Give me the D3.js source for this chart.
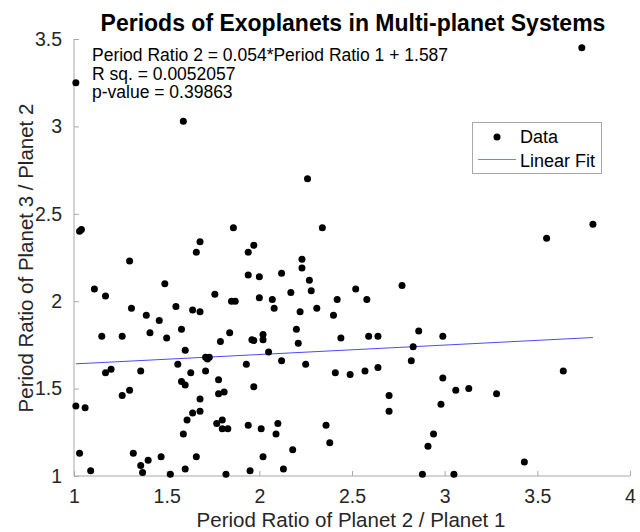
<!DOCTYPE html>
<html>
<head>
<meta charset="utf-8">
<script src="https://cdn.jsdelivr.net/npm/d3@7"></script>
<style>
  body { margin: 0; background: #fff; }
  text { font-family: "Liberation Sans", Arial, Helvetica, sans-serif; }
</style>
</head>
<body>
<svg id="chart" width="640" height="532"></svg>
<script>
// period ratio of planet 2 / planet 1 (x) and planet 3 / planet 2 (y)
const periodRatio1 = [
  1.01, 1.59, 1.03, 1.04, 1.30, 1.11, 1.17, 1.49, 1.86, 1.68, 1.66, 1.94, 1.94,
  1.31, 1.39, 1.46, 1.55, 1.64, 1.68, 1.76, 1.85, 1.87, 1.15, 1.26, 1.41, 1.50,
  1.58, 1.79, 1.84, 1.60, 1.71, 1.73, 1.72, 1.56, 1.17, 1.20, 1.36, 1.63, 1.71,
  1.93, 1.58, 1.60, 1.78, 1.26, 1.30, 1.78, 1.81, 1.68, 1.01, 1.06, 1.64, 1.68,
  1.61, 1.77, 1.80, 1.80, 1.83, 1.59, 1.03, 1.09, 1.32, 1.36, 1.37, 1.40, 1.47,
  1.52, 1.60, 1.66, 1.82, 1.95, 1.94, 1.97, 1.96, 1.97,
  2.26, 2.34, 1.97, 2.23, 2.23, 2.00, 2.12, 2.27, 2.28, 2.17, 2.00, 2.07, 2.08,
  2.22, 2.31, 2.42, 2.52, 2.58, 2.77, 2.40, 2.02, 2.02, 2.20, 2.21, 2.44, 2.59,
  2.64, 2.86, 2.05, 2.12, 2.25, 2.83, 2.82, 2.41, 2.49, 2.57, 2.64, 2.70, 2.70,
  2.01, 2.10, 2.09, 2.36, 2.38, 2.94, 2.91, 2.02, 2.18, 2.13, 2.88,
  3.74, 3.80, 3.55, 2.99, 2.99, 3.06, 3.13, 3.28, 3.64, 2.98, 3.43, 3.05
];
const periodRatio2 = [
  3.25, 3.03, 2.40, 2.41, 2.23, 2.07, 2.03, 2.10, 2.42, 2.34, 2.28, 2.28, 2.15,
  1.96, 1.92, 1.89, 1.97, 1.95, 1.94, 2.04, 2.00, 2.00, 1.80, 1.80, 1.82, 1.79,
  1.84, 1.77, 1.82, 1.72, 1.68, 1.68, 1.67, 1.64, 1.59, 1.61, 1.60, 1.59, 1.60,
  1.64, 1.54, 1.52, 1.55, 1.46, 1.49, 1.47, 1.48, 1.44, 1.40, 1.39, 1.36, 1.37,
  1.32, 1.30, 1.32, 1.27, 1.27, 1.24, 1.13, 1.03, 1.13, 1.06, 1.02, 1.09, 1.11,
  1.01, 1.04, 1.11, 1.01, 1.03, 1.29, 1.51, 1.78, 1.775,
  2.70, 2.42, 2.32, 2.24, 2.19, 2.14, 2.16, 2.12, 2.06, 2.05, 2.02, 2.01, 1.96,
  1.94, 1.96, 2.01, 2.07, 2.01, 2.09, 1.92, 1.81, 1.78, 1.84, 1.76, 1.79, 1.80,
  1.80, 1.83, 1.71, 1.66, 1.64, 1.74, 1.66, 1.59, 1.58, 1.60, 1.62, 1.46, 1.37,
  1.27, 1.30, 1.24, 1.29, 1.19, 1.24, 1.17, 1.11, 1.15, 1.04, 1.01,
  3.45, 2.44, 2.36, 1.80, 1.56, 1.49, 1.50, 1.47, 1.60, 1.41, 1.08, 1.01
];

// linear fit reported on the chart
const fitSlope = 0.054;
const fitIntercept = 1.587;
const statsLines = [
  "Period Ratio 2 = 0.054*Period Ratio 1 + 1.587",
  "R sq. = 0.0052057",
  "p-value = 0.39863"
];

const xTicks = [1, 1.5, 2, 2.5, 3, 3.5, 4];
const yTicks = [1, 1.5, 2, 2.5, 3, 3.5];
const legendLabels = ["Data", "Linear Fit"];

const svg = d3.select("#chart");

const x = d3.scaleLinear().domain([1, 4]).range([74, 630]);
const y = d3.scaleLinear().domain([1, 3.5]).range([476, 39]);

const axisColor = "#a8a8a8";
const labelColor = "#262626";

// x axis, ticks pointing inward like matlab
const xAxis = svg.append("g")
    .attr("transform", "translate(0,476)")
    .call(d3.axisTop(x).tickValues(xTicks).tickSize(5).tickPadding(-32).tickFormat(d3.format("")));
xAxis.select(".domain").attr("stroke", axisColor).attr("d", "M74,0H630");
xAxis.selectAll(".tick line").attr("stroke", axisColor);
xAxis.selectAll(".tick text")
    .attr("fill", labelColor)
    .style("font-size", "19.5px")
    .attr("font-family", null);

// y axis
const yAxis = svg.append("g")
    .attr("transform", "translate(74,0)")
    .call(d3.axisRight(y).tickValues(yTicks).tickSize(5).tickPadding(-17).tickFormat(d3.format("")));
yAxis.select(".domain").attr("stroke", axisColor).attr("d", "M0,39V476");
yAxis.selectAll(".tick line").attr("stroke", axisColor);
yAxis.selectAll(".tick text")
    .attr("fill", labelColor)
    .attr("text-anchor", "end")
    .style("font-size", "19.5px")
    .attr("font-family", null);

// fit line over the range of the data
const xExtent = d3.extent(periodRatio1);
svg.append("line")
    .attr("x1", x(xExtent[0]))
    .attr("y1", y(fitSlope * xExtent[0] + fitIntercept))
    .attr("x2", x(xExtent[1]))
    .attr("y2", y(fitSlope * xExtent[1] + fitIntercept))
    .attr("stroke", "#4a4aff")
    .attr("stroke-width", 1);

// data points
svg.append("g")
    .selectAll("circle")
    .data(periodRatio1.map((d, i) => [d, periodRatio2[i]]))
    .enter().append("circle")
    .attr("cx", d => x(d[0]))
    .attr("cy", d => y(d[1]))
    .attr("r", 3.5)
    .attr("fill", "black");

// title
svg.append("text")
    .attr("x", 353)
    .attr("y", 31)
    .attr("text-anchor", "middle")
    .style("font-size", "23px")
    .style("font-weight", "bold")
    .attr("fill", "black")
    .text("Periods of Exoplanets in Multi-planet Systems");

// regression stats
svg.append("g").selectAll("text")
    .data(statsLines)
    .enter().append("text")
    .attr("x", 92)
    .attr("y", (d, i) => 61 + i * 18.5)
    .style("font-size", "17.5px")
    .attr("fill", "black")
    .text(d => d);

// axis labels
svg.append("text")
    .attr("x", 351)
    .attr("y", 527)
    .attr("text-anchor", "middle")
    .style("font-size", "20.5px")
    .attr("fill", labelColor)
    .text("Period Ratio of Planet 2 / Planet 1");

svg.append("text")
    .attr("transform", "translate(33,258) rotate(-90)")
    .attr("text-anchor", "middle")
    .style("font-size", "20.5px")
    .attr("fill", labelColor)
    .text("Period Ratio of Planet 3 / Planet 2");

// legend
const legend = svg.append("g");
legend.append("rect")
    .attr("x", 472.5)
    .attr("y", 122.5)
    .attr("width", 129)
    .attr("height", 51)
    .attr("fill", "white")
    .attr("stroke", "#a8a8a8");
legend.append("circle")
    .attr("cx", 497)
    .attr("cy", 137)
    .attr("r", 3.5)
    .attr("fill", "black");
legend.append("line")
    .attr("x1", 478).attr("x2", 516)
    .attr("y1", 159.5).attr("y2", 159.5)
    .attr("stroke", "#7a7aff")
    .attr("stroke-width", 1);
legend.selectAll("text.lg")
    .data(legendLabels)
    .enter().append("text")
    .attr("class", "lg")
    .attr("x", 520)
    .attr("y", (d, i) => 143 + i * 23.5)
    .style("font-size", "18px")
    .attr("fill", "black")
    .text(d => d);
</script>
</body>
</html>
